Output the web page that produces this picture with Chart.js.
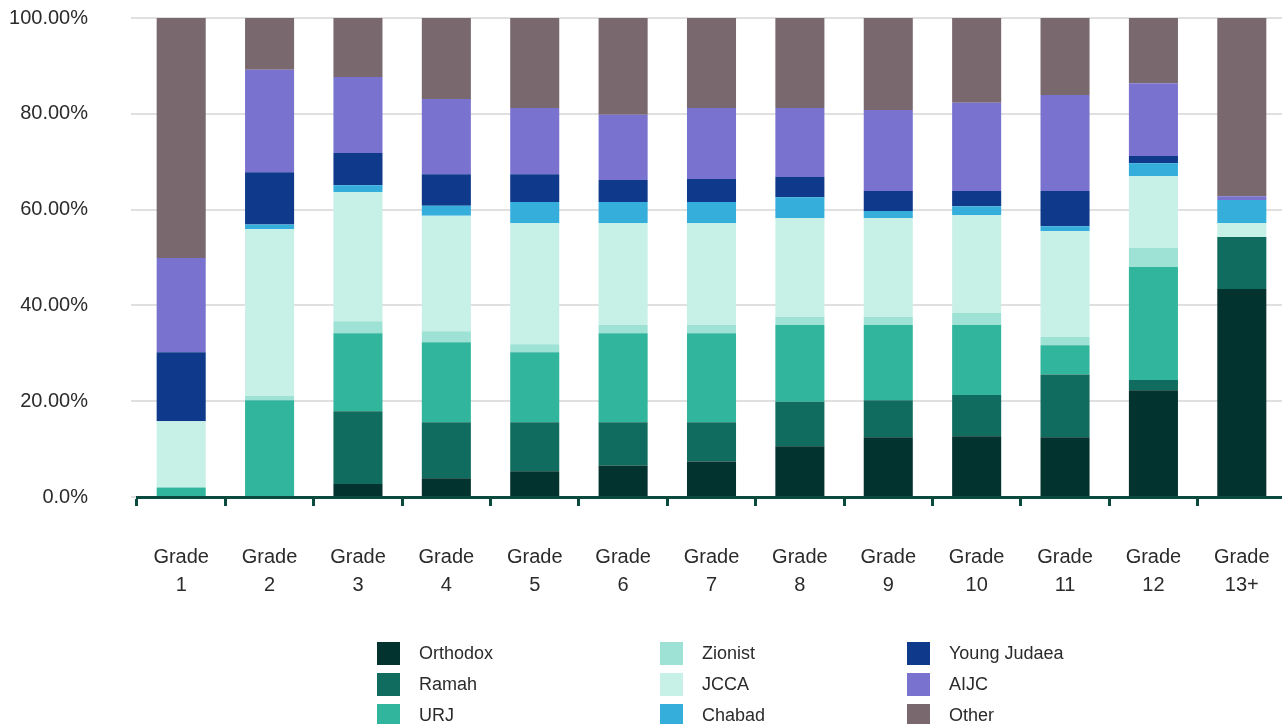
<!DOCTYPE html>
<html>
<head>
<meta charset="utf-8">
<script src="https://cdn.jsdelivr.net/npm/chart.js@4/dist/chart.umd.min.js"></script>
<style>
  html, body { margin: 0; padding: 0; background: #ffffff; overflow: hidden; width: 1282px; height: 724px; }
  #wrap { position: relative; width: 1286px; height: 724px; }
  #c { position: absolute; left: 0; top: 0; }
  .lg-item { position: absolute; height: 23px; display: flex; align-items: center;
             font-family: "Liberation Sans", Arial, sans-serif; font-size: 18px; color: #2b2b2b; white-space: nowrap; }
  .lg-box { width: 23px; height: 23px; margin-right: 19px; flex: none; }
</style>
</head>
<body>
<div id="wrap">
  <canvas id="c" width="1286" height="724"></canvas>
  <div id="legend"></div>
</div>
<script>
const categories = ['Grade 1','Grade 2','Grade 3','Grade 4','Grade 5','Grade 6','Grade 7','Grade 8','Grade 9','Grade 10','Grade 11','Grade 12','Grade 13+'];
const yTickLabels = ['0.0%','20.00%','40.00%','60.00%','80.00%','100.00%'];

const seriesNames = ['Orthodox','Ramah','URJ','Zionist','JCCA','Chabad','Young Judaea','AIJC','Other'];
const seriesColors = ['#03332E','#106C5E','#32B59D','#9EE2D5','#C7F1E7','#35AEDC','#0F398A','#7973CF','#79696F'];

const orthodox    = [0, 0, 2.7, 3.9, 5.4, 6.6, 7.4, 10.6, 12.5, 12.7, 12.5, 22.3, 43.4];
const ramah       = [0, 0, 15.2, 11.7, 10.2, 9.0, 8.2, 9.3, 7.7, 8.6, 13.1, 2.1, 10.9];
const urj         = [2.0, 20.2, 16.3, 16.7, 14.6, 18.6, 18.6, 16.0, 15.7, 14.6, 6.1, 23.6, 0];
const zionist     = [0, 0.9, 2.5, 2.3, 1.7, 1.7, 1.7, 1.7, 1.7, 2.5, 1.7, 4.0, 0];
const jcca        = [13.8, 34.8, 26.9, 24.1, 25.3, 21.3, 21.3, 20.6, 20.6, 20.4, 22.1, 15.0, 2.9];
const chabad      = [0, 1.0, 1.5, 2.1, 4.4, 4.4, 4.4, 4.4, 1.5, 1.9, 1.0, 2.7, 4.8];
const youngJudaea = [14.4, 10.9, 6.7, 6.6, 5.8, 4.6, 4.8, 4.2, 4.2, 3.2, 7.4, 1.5, 0];
const aijc        = [19.7, 21.4, 15.9, 15.7, 13.8, 13.6, 14.8, 14.4, 16.9, 18.4, 20.0, 15.2, 0.8];
const other       = [50.1, 10.8, 12.3, 16.9, 18.8, 20.2, 18.8, 18.8, 19.2, 17.7, 16.1, 13.6, 37.2];

const seriesValues = [orthodox, ramah, urj, zionist, jcca, chabad, youngJudaea, aijc, other];

const FONT = '"Liberation Sans", Arial, sans-serif';
const TEXT = '#2b2b2b';
const AXIS = '#0B4A3F';

const datasets = seriesNames.map((name, i) => ({
  label: name,
  data: seriesValues[i],
  backgroundColor: seriesColors[i],
  borderWidth: 0,
  barPercentage: 0.555,
  categoryPercentage: 1.0,
  stack: 's'
}));

const chart = new Chart(document.getElementById('c'), {
  type: 'bar',
  data: { labels: categories, datasets },
  options: {
    responsive: false,
    animation: false,
    layout: { padding: { top: 18, right: 0, bottom: 88, left: 0 } },
    plugins: { legend: { display: false }, tooltip: { enabled: false } },
    scales: {
      x: {
        stacked: true,
        offset: true,
        afterFit: function (s) { s.paddingLeft = 0; s.paddingRight = 0; },
        grid: { offset: true, drawOnChartArea: false, drawTicks: true, tickLength: 9, tickColor: AXIS, tickWidth: 3 },
        border: { display: true, color: AXIS, width: 3 },
        ticks: {
          padding: 37,
          maxRotation: 0,
          autoSkip: false,
          color: TEXT,
          font: { family: FONT, size: 20, lineHeight: 1.4 },
          callback: function (v, i) { const s = categories[i]; const k = s.indexOf(' '); return [s.slice(0, k), s.slice(k + 1)]; }
        }
      },
      y: {
        stacked: true,
        min: 0, max: 100,
        afterFit: function (s) { s.width = 137; s.paddingTop = 0; s.paddingBottom = 0; },
        grid: { color: '#e0e0e0', lineWidth: 2, drawTicks: true, tickLength: 6, tickColor: '#e0e0e0' },
        border: { display: false },
        ticks: {
          stepSize: 20,
          padding: 43,
          color: TEXT,
          font: { family: FONT, size: 20 },
          callback: function (v) { return yTickLabels[Math.round(v / 20)]; }
        }
      }
    }
  }
});

// Legend (3 columns x 3 rows, column-major), built from the chart's datasets
const legendCols = [377, 660, 907];
const legendRows = [642, 673, 704];
const legendEl = document.getElementById('legend');
chart.data.datasets.forEach((ds, i) => {
  const item = document.createElement('div');
  item.className = 'lg-item';
  item.style.left = legendCols[Math.floor(i / 3)] + 'px';
  item.style.top = legendRows[i % 3] + 'px';
  const box = document.createElement('span');
  box.className = 'lg-box';
  box.style.background = ds.backgroundColor;
  const txt = document.createElement('span');
  txt.textContent = ds.label;
  item.appendChild(box);
  item.appendChild(txt);
  legendEl.appendChild(item);
});
</script>
</body>
</html>
